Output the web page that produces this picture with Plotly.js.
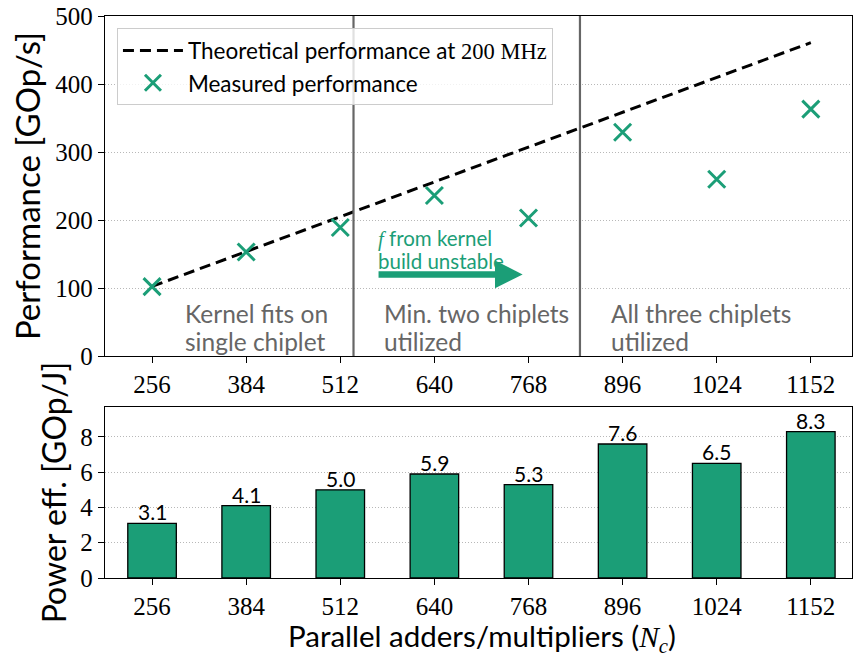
<!DOCTYPE html>
<html>
<head>
<meta charset="utf-8">
<script src="https://cdn.plot.ly/plotly-3.0.1.min.js"></script>
<style>body{margin:0;padding:0;background:#fff}#chart{width:853px;height:657px}</style>
</head>
<body>
<div id="chart"></div>
<script>
// ---- data ----
const parallelUnits = [256, 384, 512, 640, 768, 896, 1024, 1152];
const tickLabels = ['256', '384', '512', '640', '768', '896', '1024', '1152'];
const theoreticalPerf = [102.4, 153.6, 204.8, 256.0, 307.2, 358.4, 409.6, 460.8];
const measuredPerf = [102, 153, 189, 236, 203, 329, 260, 363];
const powerEff = [3.1, 4.1, 5.0, 5.9, 5.3, 7.6, 6.5, 8.3];
const powerEffLabels = ['3.1', '4.1', '5.0', '5.9', '5.3', '7.6', '6.5', '8.3'];
const chipletBoundaries = [530, 838];

const green = '#1b9e77';
const sans = 'Lato, "DejaVu Sans", sans-serif';
const serif = '"Liberation Serif", "DejaVu Serif", serif';
const gray = '#666666';

const traces = [
  {
    x: parallelUnits, y: theoreticalPerf, type: 'scatter', mode: 'lines',
    name: 'Theoretical performance at <span style="font-family:' + "'Liberation Serif'" + '">200 MHz</span>',
    line: {color: 'black', width: 3, dash: '11px,6px'},
    xaxis: 'x', yaxis: 'y'
  },
  {
    x: parallelUnits, y: measuredPerf, type: 'scatter', mode: 'markers',
    name: 'Measured performance',
    marker: {symbol: 'x-thin', size: 17, line: {color: green, width: 3}, color: green},
    xaxis: 'x', yaxis: 'y'
  },
  {
    x: parallelUnits, y: powerEff, type: 'bar', width: 66,
    marker: {color: green, line: {color: 'black', width: 1.3}},
    showlegend: false,
    xaxis: 'x2', yaxis: 'y2'
  }
];

const shapes = chipletBoundaries.map(b => ({
  type: 'line', xref: 'x', yref: 'y', x0: b, x1: b, y0: 0, y1: 500,
  line: {color: gray, width: 2.2}
}));

const regionLines = [
  {x: 298, y: 62, text: 'Kernel fits on'},
  {x: 298, y: 22, text: 'single chiplet'},
  {x: 569, y: 62, text: 'Min. two chiplets'},
  {x: 569, y: 22, text: 'utilized'},
  {x: 877, y: 62, text: 'All three chiplets'},
  {x: 877, y: 22, text: 'utilized'}
];

const annotations = regionLines.map(r => ({
  x: r.x, y: r.y, xref: 'x', yref: 'y', text: r.text, showarrow: false,
  xanchor: 'left', yanchor: 'middle', align: 'left',
  font: {family: sans, size: 24.5, color: gray}
}));

const noteLines = [
  {y: 173, text: '<i style="font-family:\'Liberation Serif\'">f</i> from kernel'},
  {y: 139, text: 'build unstable'}
];
noteLines.forEach(n => annotations.push({
  x: 560, y: n.y, xref: 'x', yref: 'y', showarrow: false, text: n.text,
  xanchor: 'left', yanchor: 'middle', align: 'left',
  font: {family: sans, size: 20.5, color: green}
}));
annotations.push({
  x: 760, y: 120, ax: 562, ay: 120, xref: 'x', yref: 'y', axref: 'x', ayref: 'y',
  text: '', showarrow: true, arrowhead: 2, arrowsize: 0.85, arrowwidth: 6.5, arrowcolor: green
});

parallelUnits.forEach((u, i) => annotations.push({
  x: u, y: powerEff[i], xref: 'x2', yref: 'y2', text: powerEffLabels[i], showarrow: false,
  xanchor: 'center', yanchor: 'bottom', yshift: -3,
  font: {family: sans, size: 21, color: 'black'}
}));

annotations.push({
  x: 0.505, y: -0.106, xref: 'paper', yref: 'paper', showarrow: false,
  text: 'Parallel adders/multipliers (<i style="font-family:\'Liberation Serif\'">N<sub>c</sub></i>)',
  xanchor: 'center', yanchor: 'middle', font: {family: sans, size: 29.5, color: 'black'}
});

const axisCommon = {
  showline: true, linecolor: 'black', linewidth: 1.3, mirror: true,
  ticks: 'outside', ticklen: 6, tickcolor: 'black', zeroline: false,
  tickfont: {family: serif, size: 25, color: 'black'}
};

const layout = {
  width: 853, height: 657,
  margin: {l: 105, r: 1, t: 16, b: 79},
  paper_bgcolor: 'white', plot_bgcolor: 'white',
  showlegend: true,
  legend: {
    x: 0.016, y: 0.978, xanchor: 'left', yanchor: 'top',
    bgcolor: 'rgba(255,255,255,0.8)', bordercolor: '#cccccc', borderwidth: 1,
    font: {family: sans, size: 22.5, color: 'black'}, itemwidth: 60, tracegroupgap: 0
  },
  xaxis: Object.assign({}, axisCommon, {
    anchor: 'y', range: [192, 1208], tickvals: parallelUnits, ticktext: tickLabels, showgrid: false
  }),
  yaxis: Object.assign({}, axisCommon, {
    domain: [0.395, 1], range: [0, 500], tickvals: [0, 100, 200, 300, 400, 500],
    showgrid: true, gridcolor: '#b8b8b8', griddash: '1px,2px', gridwidth: 1,
    title: {text: 'Performance [GOp/s]', font: {family: sans, size: 33, color: 'black'}, standoff: 4}
  }),
  xaxis2: Object.assign({}, axisCommon, {
    anchor: 'y2', range: [192, 1208], tickvals: parallelUnits, ticktext: tickLabels, showgrid: false
  }),
  yaxis2: Object.assign({}, axisCommon, {
    domain: [0, 0.3043], range: [0, 9.7], tickvals: [0, 2, 4, 6, 8],
    showgrid: true, gridcolor: '#b8b8b8', griddash: '1px,2px', gridwidth: 1,
    title: {text: 'Power eff. [GOp/J]', font: {family: sans, size: 32, color: 'black'}, standoff: 4}
  }),
  shapes: shapes,
  annotations: annotations,
  bargap: 0
};

Plotly.newPlot('chart', traces, layout, {displayModeBar: false, staticPlot: true});
</script>
</body>
</html>
